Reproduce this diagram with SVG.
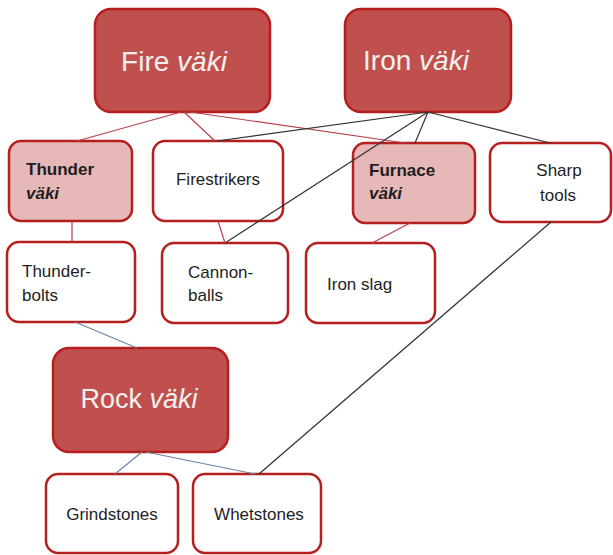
<svg xmlns="http://www.w3.org/2000/svg" width="613" height="555" viewBox="0 0 613 555">
<style>
text{font-family:"Liberation Sans",Arial,sans-serif;fill:#1e1e1e}
.big rect{fill:#c0504d;stroke:#b51f1f;stroke-width:2.5}
.big text{fill:#f4f0f0;font-size:28px}
.light rect{fill:#e6b8b7;stroke:#b51f1f;stroke-width:2.5}
.plain rect{fill:#fff;stroke:#b51f1f;stroke-width:2.5}
.s{font-size:17px}
.b{font-weight:bold}
.i{font-style:italic}
.red{stroke:#b8404a;stroke-width:1.2;fill:none}
.blk{stroke:#333;stroke-width:1.2;fill:none}
.blu{stroke:#6a85a8;stroke-width:1.2;fill:none}
</style>
<rect width="613" height="555" fill="#fff"/>
<g id="nodes-bg">
<g id="fire" class="big"><rect x="95" y="9" width="175" height="103" rx="16"/><text x="174" y="71" text-anchor="middle">Fire <tspan class="i">väki</tspan></text></g>
<g id="iron" class="big"><rect x="345" y="9" width="166" height="103" rx="16"/><text x="416" y="70" text-anchor="middle">Iron <tspan class="i">väki</tspan></text></g>
<g id="thunder" class="light"><rect x="9" y="141" width="123" height="80" rx="12"/><text class="s b" x="26" y="175">Thunder</text><text class="s b i" x="26" y="199">väki</text></g>
<g id="firestrikers" class="plain"><rect x="153" y="141" width="130" height="80" rx="12"/><text class="s" x="218" y="185" text-anchor="middle">Firestrikers</text></g>
<g id="furnace" class="light"><rect x="353" y="143" width="122" height="80" rx="12"/><text class="s b" x="369" y="176">Furnace</text><text class="s b i" x="369" y="199">väki</text></g>
<g id="sharp" class="plain"><rect x="490" y="143" width="121" height="79" rx="12"/><text class="s" x="559" y="176" text-anchor="middle">Sharp</text><text class="s" x="558" y="201" text-anchor="middle">tools</text></g>
<g id="thunderbolts" class="plain"><rect x="7" y="242" width="128" height="80" rx="12"/><text class="s" x="22" y="277">Thunder-</text><text class="s" x="22" y="301">bolts</text></g>
<g id="cannonballs" class="plain"><rect x="162" y="243" width="126" height="80" rx="12"/><text class="s" x="188" y="278">Cannon-</text><text class="s" x="188" y="301">balls</text></g>
<g id="ironslag" class="plain"><rect x="306" y="243" width="129" height="80" rx="12"/><text class="s" x="327" y="290">Iron slag</text></g>
<g id="rock" class="big"><rect x="53" y="348" width="175" height="104" rx="16"/><text x="139" y="408" text-anchor="middle" style="font-size:27px">Rock <tspan class="i">väki</tspan></text></g>
<g id="grindstones" class="plain"><rect x="46" y="474" width="132" height="79" rx="12"/><text class="s" x="112" y="520" text-anchor="middle">Grindstones</text></g>
<g id="whetstones" class="plain"><rect x="193" y="474" width="128" height="79" rx="12"/><text class="s" x="259" y="520" text-anchor="middle">Whetstones</text></g>
</g>
<g id="connectors">
<line class="red" x1="181" y1="112" x2="77" y2="141"/>
<line class="red" x1="184" y1="112" x2="215" y2="141"/>
<line class="red" x1="190" y1="112" x2="405" y2="143"/>
<line class="blk" x1="428" y1="112" x2="217" y2="141"/>
<line class="blk" x1="428" y1="112" x2="225" y2="243"/>
<line class="blk" x1="428" y1="112" x2="415" y2="143"/>
<line class="blk" x1="428" y1="112" x2="550" y2="143"/>
<line class="red" x1="218" y1="221" x2="225" y2="243"/>
<line class="red" x1="72" y1="221" x2="72" y2="242"/>
<line class="red" x1="410" y1="223" x2="372" y2="243"/>
<line class="blk" x1="551" y1="222" x2="259" y2="474"/>
<line class="blu" x1="75" y1="322" x2="137" y2="348"/>
<line class="blu" x1="142" y1="452" x2="115" y2="474"/>
<line class="blu" x1="146" y1="452" x2="255" y2="474"/>
</g>
</svg>
